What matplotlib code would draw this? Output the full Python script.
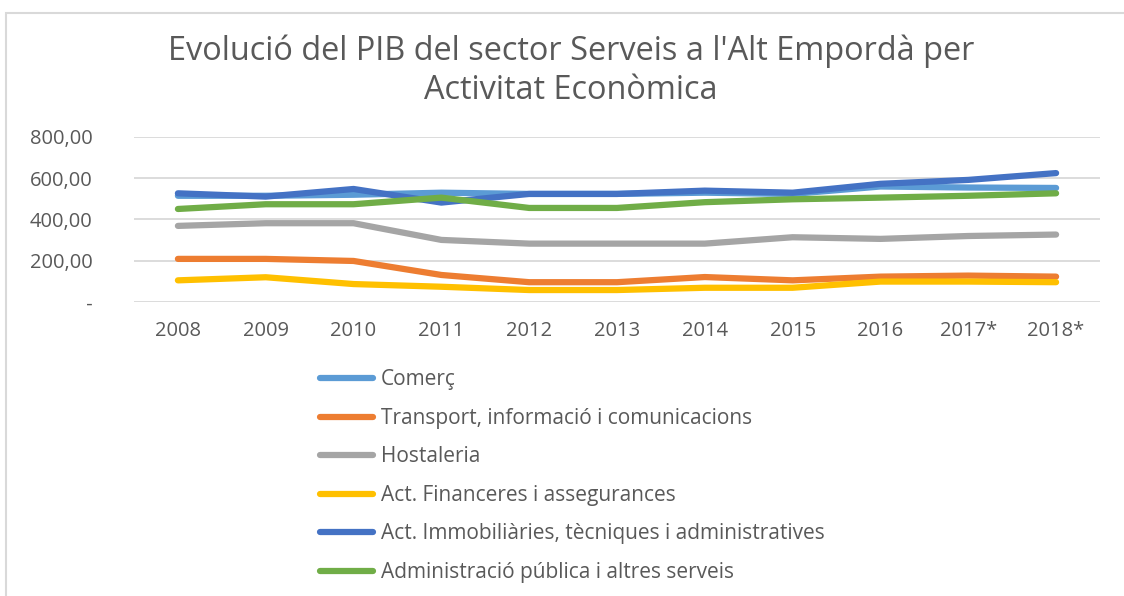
import matplotlib.pyplot as plt
from matplotlib.patches import Rectangle
from matplotlib.ticker import FuncFormatter

plt.rcParams['font.family'] = ['Open Sans', 'DejaVu Sans']

years = ['2008', '2009', '2010', '2011', '2012', '2013', '2014', '2015', '2016', '2017*', '2018*']

comerc = [515, 515, 520, 530, 524, 524, 530, 524, 560, 555, 553]
transport = [209, 209, 199, 131, 96, 96, 121, 105, 123, 128, 123]
hostaleria = [369, 382, 382, 301, 283, 283, 283, 314, 306, 320, 327]
financeres = [105, 120, 87, 74, 58, 58, 69, 69, 99, 99, 96]
immobiliaries = [527, 511, 548, 482, 524, 524, 540, 530, 573, 592, 625]
administracio = [451, 474, 474, 506, 456, 456, 484, 498, 506, 515, 527]

series = [
    ('Comerç', comerc, '#5b9bd5'),
    ('Transport, informació i comunicacions', transport, '#ed7d31'),
    ('Hostaleria', hostaleria, '#a5a5a5'),
    ('Act. Financeres i assegurances', financeres, '#ffc000'),
    ('Act. Immobiliàries, tècniques i administratives', immobiliaries, '#4472c4'),
    ('Administració pública i altres serveis', administracio, '#70ad47'),
]

txt = '#595959'

fig = plt.figure(figsize=(11.24, 5.96), dpi=100)
ax = fig.add_axes([134 / 1124, 1 - 302 / 596, (1100 - 134) / 1124, (302 - 137) / 596])

x = range(len(years))
for name, vals, col in series:
    ax.plot(x, vals, color=col, lw=4.5, solid_capstyle='round', solid_joinstyle='round', label=name)

ax.set_xlim(-0.5, len(years) - 0.5)
ax.set_ylim(0, 800)
ax.set_yticks([0, 200, 400, 600, 800])
ax.yaxis.set_major_formatter(FuncFormatter(
    lambda v, p: ' -' if v == 0 else f'{v:,.2f}'.replace(',', ' ').replace('.', ',').replace(' ', '.')))
ax.set_xticks(list(x))
ax.set_xticklabels(years)
ax.grid(axis='y', color='#d9d9d9', lw=1.3)
ax.set_axisbelow(True)
for s in ax.spines.values():
    s.set_visible(False)
ax.tick_params(length=0, labelsize=14.5, colors=txt)
ax.tick_params(axis='y', pad=30)
ax.tick_params(axis='x', pad=14)

fig.text(571 / 1124, 1 - 71 / 596, "Evolució del PIB del sector Serveis a l'Alt Empordà per\nActivitat Econòmica",
         ha='center', va='center', fontsize=23.4, color=txt, linespacing=1.25)

leg = fig.legend(loc='upper left', bbox_to_anchor=(310 / 1124, 1 - 359 / 596), frameon=False,
                 fontsize=15, labelcolor=txt, handlelength=2.5, handletextpad=0.4,
                 labelspacing=0.84, borderpad=0)

fig.add_artist(Rectangle((6 / 1124, -0.1), 1.2, 1 - 13 / 596 + 0.1, transform=fig.transFigure,
                         fill=False, edgecolor='#d9d9d9', lw=1.5))

fig.savefig('out.png', dpi=100)
